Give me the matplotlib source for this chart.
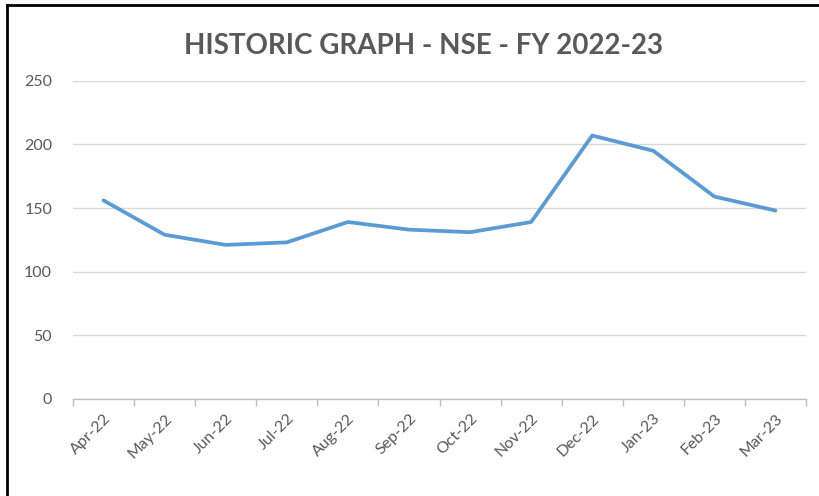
import numpy as np
import matplotlib
matplotlib.use('Agg')
import matplotlib.pyplot as plt
from matplotlib.lines import Line2D

# Monthly values
months = ['Apr-22', 'May-22', 'Jun-22', 'Jul-22', 'Aug-22', 'Sep-22',
          'Oct-22', 'Nov-22', 'Dec-22', 'Jan-23', 'Feb-23', 'Mar-23']
values = [156, 129, 121, 123, 139, 133, 131, 139, 207, 195, 159, 148]
y_ticks = [0, 50, 100, 150, 200, 250]

plt.rcParams['font.family'] = ['Lato', 'DejaVu Sans']

fig = plt.figure(figsize=(8.2, 4.96), dpi=100)
fig.patch.set_facecolor('white')
ax = fig.add_axes([0.089, 0.196, 0.894, 0.641])

x = np.arange(len(months))
ax.plot(x, values, color='#5B9BD5', linewidth=2.7, solid_joinstyle='round', solid_capstyle='round', zorder=3)

# Axis limits and ticks
ax.set_xlim(-0.5, len(months) - 0.5)
ax.set_ylim(0, 250)
ax.set_yticks(y_ticks)
ax.set_yticklabels([str(v) for v in y_ticks])
ax.set_xticks(x)
ax.set_xticklabels(months, rotation=45, ha='right', va='top', rotation_mode='anchor')
ax.set_xticks(np.arange(-0.5, len(months)), minor=True)

ax.tick_params(axis='x', which='major', length=0, pad=9, labelsize=11.5, labelcolor='#595959')
ax.tick_params(axis='x', which='minor', length=5, color='#BFBFBF', width=1)
ax.tick_params(axis='y', length=0, pad=15, labelsize=11.5, labelcolor='#595959')

# Gridlines
ax.yaxis.grid(True, color='#D9D9D9', linewidth=1)
ax.set_axisbelow(True)

# Remove borders except the bottom axis
for side in ['top', 'right', 'left']:
    ax.spines[side].set_visible(False)
ax.spines['bottom'].set_color('#BFBFBF')
ax.spines['bottom'].set_linewidth(1)

# Title
fig.text(0.517, 0.908, 'HISTORIC GRAPH - NSE - FY 2022-23', ha='center', va='center',
         fontsize=20, color='#595959', fontweight='bold')

# Black frame lines on left and top of the picture
fig.add_artist(Line2D([0.009, 0.009], [0, 0.99], transform=fig.transFigure, color='black', linewidth=2))
fig.add_artist(Line2D([0.009, 1.0], [0.99, 0.99], transform=fig.transFigure, color='black', linewidth=2))

fig.savefig('out.png', dpi=100)
